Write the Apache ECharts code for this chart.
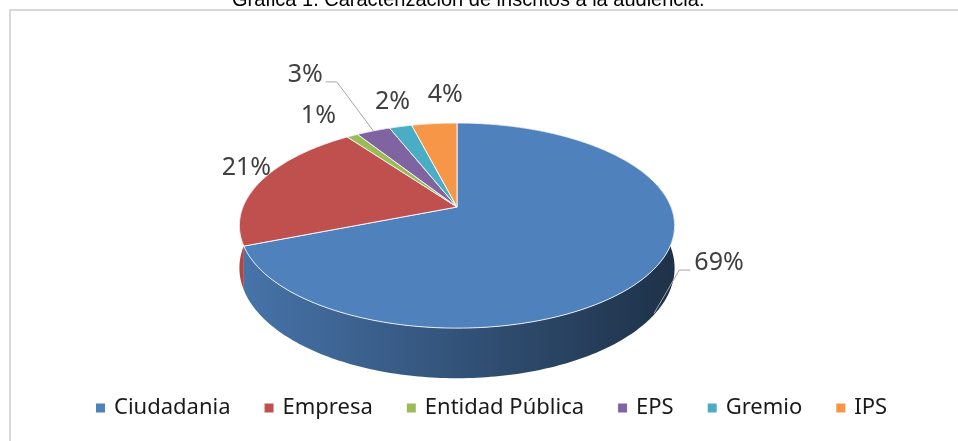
<!DOCTYPE html>
<html>
<head>
<meta charset="utf-8">
<style>
  html, body { margin: 0; padding: 0; background: #fff; }
  #chart { width: 958px; height: 441px; }
</style>
<script src="https://cdn.jsdelivr.net/npm/echarts@6/dist/echarts.min.js"></script>
</head>
<body>
<div id="chart"></div>
<script>
// datos de la gráfica
var categories = ['Ciudadania', 'Empresa', 'Entidad Pública', 'EPS', 'Gremio', 'IPS'];
var shares = [69, 21, 1, 3, 2, 4];
var chartTitle = 'Gráfica 1. Caracterización de inscritos a la audiencia.';

// estilo / disposición
var colors = ['#4f81bd', '#c0504d', '#9bbb59', '#8064a2', '#4bacc6', '#f79646'];
var PIE = { cx: 457, cy: 207, rx: 214, ry: 99.2, k: 0.181, depth: 41 };
var labelShift = [[65, -6], [-15, -13], [-34, -20], [-68, -56], [-8, -25], [11, -29]];
var withLeader = [true, false, false, true, false, false];
var LABEL_SIZE = 25;

var total = shares.reduce(function (a, b) { return a + b; }, 0);

// perspectiva simple de un disco inclinado
function project(a, r) {
    var u = r * Math.sin(a), v = -r * Math.cos(a);
    var w = 1 - PIE.k * v;
    return { x: PIE.cx + PIE.rx * u / w, y: PIE.cy + PIE.ry * v / w, w: w, v: v };
}

function shade(hex, f) {
    var n = parseInt(hex.slice(1), 16);
    var r = Math.round(((n >> 16) & 255) * f);
    var g = Math.round(((n >> 8) & 255) * f);
    var b = Math.round((n & 255) * f);
    return 'rgb(' + r + ',' + g + ',' + b + ')';
}

function makeSlice(i) {
    return function (params, api) {
        var before = 0;
        for (var j = 0; j < i; j++) before += shares[j];
        var a0 = before / total * Math.PI * 2;
        var a1 = (before + api.value(0)) / total * Math.PI * 2;
        var steps = Math.max(2, Math.ceil((a1 - a0) / (Math.PI / 180)));
        var rim = [], bottom = [];
        for (var s = 0; s <= steps; s++) {
            var p = project(a0 + (a1 - a0) * s / steps, 1);
            rim.push([p.x, p.y]);
            bottom.push([p.x, p.y + PIE.depth / p.w]);
        }
        var wallFill = new echarts.graphic.LinearGradient(
            PIE.cx - PIE.rx * 1.02, 0, PIE.cx + PIE.rx * 1.02, 0,
            [{ offset: 0, color: shade(colors[i], 0.9) },
             { offset: 1, color: shade(colors[i], 0.38) }], true);

        var children = [
            {
                type: 'polygon', z2: 1,
                shape: { points: rim.concat(bottom.slice().reverse()) },
                style: { fill: wallFill }
            },
            {
                type: 'polygon', z2: 10,
                shape: { points: [[PIE.cx, PIE.cy]].concat(rim) },
                style: { fill: colors[i], stroke: 'rgba(255,255,255,0.85)', lineWidth: 1 }
            }
        ];

        var mid = project((a0 + a1) / 2, 1);
        var lx = mid.x + labelShift[i][0], ly = mid.y + labelShift[i][1];
        var text = Math.round(api.value(0) / total * 100) + '%';
        children.push({
            type: 'text', z2: 20,
            style: {
                text: text, x: lx, y: ly, align: 'center', verticalAlign: 'middle',
                fill: '#404040', font: LABEL_SIZE + 'px "Noto Sans"'
            }
        });
        if (withLeader[i]) {
            var half = text.length * LABEL_SIZE * 0.33 + 4;
            var dir = mid.x > lx ? 1 : -1;
            var sx = lx + dir * half, sy = ly + 7;
            var end = [mid.x, mid.y + (mid.v > 0 ? PIE.depth / mid.w * 0.97 : 0)];
            children.push({
                type: 'polyline', z2: 20,
                shape: { points: [[sx, sy], [sx + dir * 11, sy], end] },
                style: { stroke: '#a6a6a6', lineWidth: 1, fill: null }
            });
        }
        return { type: 'group', children: children };
    };
}

var chart = echarts.init(document.getElementById('chart'));
chart.setOption({
    animation: false,
    color: colors,
    graphic: [{
        type: 'rect',
        shape: { x: 10, y: 10, width: 1200, height: 1000 },
        style: { fill: null, stroke: '#d9d9d9', lineWidth: 2 },
        silent: true
    }, {
        type: 'text',
        x: 232,
        y: 10,
        silent: true,
        style: {
            text: chartTitle,
            align: 'left',
            verticalAlign: 'bottom',
            fill: '#000',
            font: '20px "Liberation Sans", Arial'
        }
    }],
    legend: {
        data: categories,
        left: 96,
        top: 397,
        padding: 0,
        icon: 'rect',
        itemWidth: 9,
        itemHeight: 9,
        itemGap: 34,
        textStyle: { fontFamily: '"Noto Sans"', fontSize: 22, color: '#1a1a1a', padding: [0, 0, 0, 4] }
    },
    series: categories.map(function (name, i) {
        return {
            type: 'custom',
            name: name,
            coordinateSystem: 'none',
            silent: true,
            itemStyle: { color: colors[i] },
            data: [[shares[i]]],
            renderItem: makeSlice(i)
        };
    })
});
</script>
</body>
</html>
